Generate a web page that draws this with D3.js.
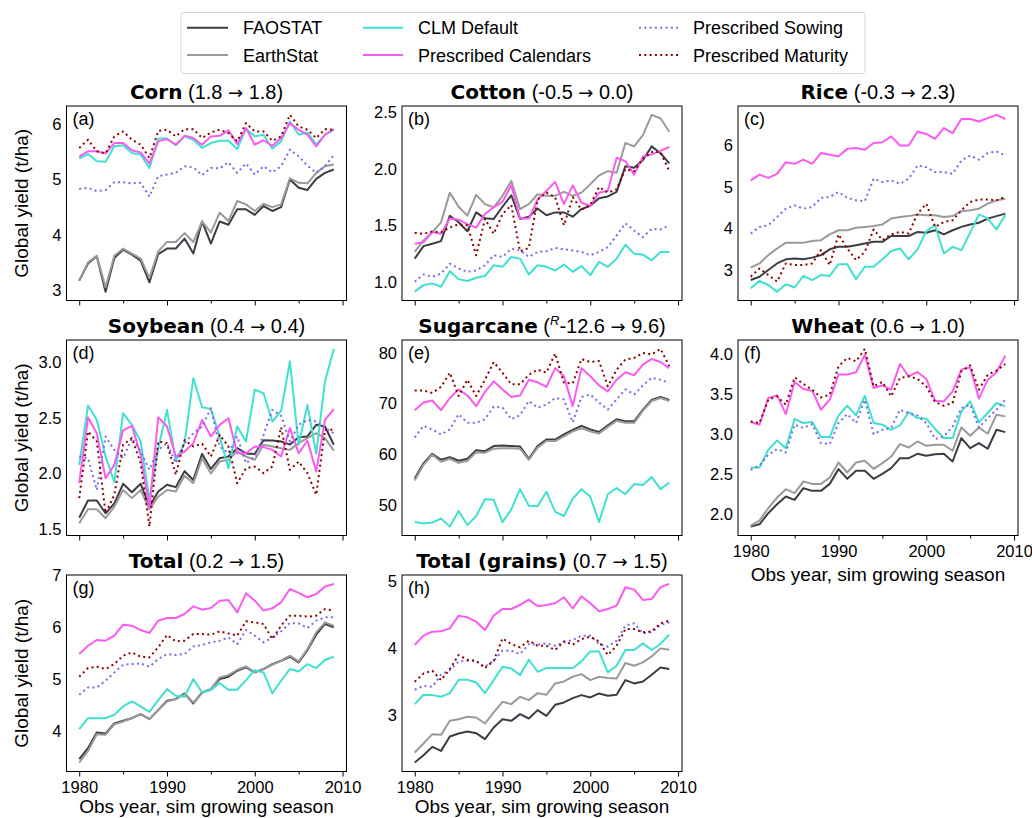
<!DOCTYPE html>
<html><head><meta charset="utf-8">
<script src="https://cdn.jsdelivr.net/npm/d3@7"></script>
<style>
body{margin:0;background:#fff}
svg{display:block}
text{font-family:"Liberation Sans",Arial,sans-serif;fill:#000}
</style>
</head><body>
<svg id="c" width="1032" height="818"></svg>
<script>
// ---------------- DATA ----------------
const years = [1980,1981,1982,1983,1984,1985,1986,1987,1988,1989,1990,1991,1992,1993,1994,1995,1996,1997,1998,1999,2000,2001,2002,2003,2004,2005,2006,2007,2008,2009];
const seriesNames = ["FAOSTAT","EarthStat","CLM Default","Prescribed Calendars","Prescribed Sowing","Prescribed Maturity"];
const xTickLabels = [1980,1990,2000,2010];
const xMinorTicks = [1985,1995,2005];

// order of every crop list: FAOSTAT, EarthStat, CLM Default, Prescribed Calendars, Prescribed Sowing, Prescribed Maturity
const corn = [
 [3.17,3.48,3.61,2.97,3.58,3.73,3.64,3.53,3.14,3.65,3.75,3.75,3.93,3.66,4.24,3.84,4.24,4.18,4.46,4.46,4.36,4.52,4.43,4.50,5.00,4.85,4.81,5.01,5.12,5.18],
 [3.17,3.50,3.62,3.05,3.62,3.75,3.66,3.57,3.22,3.70,3.87,3.87,4.03,3.87,4.24,4.04,4.40,4.25,4.61,4.55,4.43,4.56,4.50,4.55,5.02,4.94,4.93,5.12,5.24,5.27],
 [5.38,5.46,5.33,5.32,5.60,5.62,5.48,5.45,5.21,5.74,5.74,5.62,5.78,5.72,5.57,5.66,5.70,5.70,5.55,5.92,5.78,5.81,5.56,5.69,6.05,5.81,5.85,5.63,5.81,5.90],
 [5.42,5.51,5.51,5.47,5.66,5.66,5.53,5.49,5.29,5.69,5.73,5.63,5.79,5.75,5.63,5.78,5.79,5.89,5.64,5.93,5.63,5.71,5.61,5.75,6.02,5.90,5.81,5.60,5.81,5.91],
 [4.83,4.85,4.79,4.81,4.95,4.95,4.93,4.94,4.69,5.06,5.09,5.12,5.24,5.22,5.08,5.21,5.20,5.31,5.12,5.29,5.09,5.24,5.13,5.24,5.54,5.42,5.25,5.12,5.24,5.44],
 [5.57,5.72,5.51,5.47,5.78,5.87,5.72,5.63,5.39,5.88,5.90,5.78,5.91,5.91,5.75,5.85,5.90,5.84,5.69,6.02,5.87,5.87,5.70,5.78,6.17,5.96,5.90,5.75,5.91,5.90]
];
const cotton = [
 [1.205,1.316,1.337,1.36,1.585,1.527,1.448,1.615,1.562,1.557,1.665,1.767,1.557,1.577,1.65,1.59,1.615,1.615,1.577,1.644,1.674,1.741,1.756,1.797,2.025,2.01,2.08,2.2,2.14,2.05],
 [1.264,1.366,1.44,1.527,1.79,1.665,1.586,1.77,1.688,1.66,1.762,1.894,1.644,1.688,1.776,1.762,1.762,1.797,1.762,1.79,1.864,1.943,1.981,1.967,2.23,2.2,2.30,2.48,2.45,2.33],
 [0.912,0.97,0.985,0.956,1.094,1.023,1.006,1.035,1.05,1.146,1.132,1.22,1.205,1.064,1.146,1.132,1.10,1.152,1.088,1.14,1.059,1.176,1.132,1.205,1.328,1.249,1.24,1.19,1.264,1.264],
 [1.337,1.35,1.44,1.425,1.56,1.55,1.51,1.48,1.60,1.66,1.71,1.855,1.56,1.56,1.73,1.806,1.885,1.688,1.855,1.70,1.674,1.79,1.806,2.1,2.07,1.95,2.11,2.13,2.16,2.195],
 [1.0,1.064,1.044,1.073,1.16,1.117,1.088,1.10,1.146,1.235,1.22,1.293,1.278,1.22,1.264,1.27,1.30,1.287,1.278,1.264,1.235,1.264,1.307,1.41,1.518,1.454,1.395,1.469,1.463,1.50],
 [1.433,1.425,1.445,1.44,1.48,1.51,1.50,1.235,1.557,1.425,1.60,1.68,1.27,1.30,1.73,1.79,1.75,1.50,1.75,1.64,1.68,1.84,1.79,1.82,2.0,1.98,2.09,2.15,2.15,1.98]
];
const rice = [
 [2.76,2.84,3.00,3.16,3.26,3.28,3.26,3.30,3.36,3.50,3.56,3.56,3.60,3.64,3.68,3.68,3.82,3.82,3.82,3.92,3.90,3.96,3.86,3.96,4.04,4.10,4.14,4.24,4.30,4.36],
 [3.06,3.16,3.36,3.52,3.66,3.66,3.66,3.70,3.72,3.86,3.96,3.96,4.02,4.04,4.06,4.10,4.24,4.28,4.30,4.34,4.32,4.32,4.28,4.30,4.42,4.44,4.48,4.60,4.68,4.72],
 [2.56,2.74,2.64,2.48,2.66,2.58,2.86,2.76,2.88,2.86,3.14,3.14,2.78,3.08,3.08,3.26,3.46,3.52,3.26,3.50,3.94,4.08,3.40,3.56,3.48,3.90,4.34,4.24,3.98,4.32],
 [5.16,5.30,5.22,5.32,5.60,5.56,5.66,5.56,5.82,5.78,5.74,5.92,5.94,5.90,6.06,6.08,6.22,6.00,6.00,6.34,6.28,6.16,6.42,6.30,6.64,6.64,6.58,6.66,6.74,6.64],
 [3.88,4.04,4.08,4.28,4.48,4.56,4.48,4.52,4.74,4.76,4.88,4.74,4.68,4.66,5.20,5.12,5.16,5.08,5.20,5.52,5.48,5.36,5.36,5.32,5.64,5.76,5.66,5.82,5.86,5.76],
 [2.84,3.04,2.88,2.72,3.16,3.12,3.12,3.16,3.48,3.12,3.86,3.52,3.24,3.44,3.98,3.72,3.86,3.92,3.88,4.36,4.60,4.04,4.16,4.20,4.44,4.64,4.70,4.70,4.68,4.76]
];
const soybean = [
 [1.60,1.756,1.756,1.64,1.73,1.906,1.83,1.906,1.70,1.837,1.897,1.876,2.02,1.94,2.176,2.04,2.137,2.152,2.227,2.18,2.176,2.30,2.297,2.288,2.26,2.327,2.333,2.438,2.423,2.258],
 [1.55,1.677,1.677,1.596,1.70,1.85,1.777,1.85,1.677,1.79,1.85,1.837,1.978,1.912,2.137,2.0,2.107,2.122,2.197,2.152,2.122,2.258,2.243,2.227,2.212,2.273,2.318,2.363,2.318,2.206],
 [2.077,2.612,2.483,2.152,1.92,2.543,2.438,2.288,1.762,2.227,2.573,2.116,2.273,2.859,2.597,2.582,2.333,2.047,2.423,2.288,2.754,2.723,2.468,2.564,3.009,2.258,2.618,2.176,2.829,3.123],
 [1.912,2.504,2.363,1.957,2.077,2.387,2.429,2.167,1.687,2.507,2.423,2.152,2.197,2.273,2.483,2.333,2.438,2.498,2.182,2.182,2.243,2.237,2.212,2.152,2.408,2.182,2.297,2.017,2.483,2.579],
 [2.152,2.137,1.85,2.333,2.212,2.137,2.318,2.197,2.032,2.212,2.273,2.092,2.273,2.363,2.423,2.588,2.243,2.182,2.333,2.092,2.152,2.348,2.573,2.519,2.288,2.438,2.483,2.468,2.408,2.363],
 [1.777,2.378,2.288,1.64,1.807,2.258,2.318,2.092,1.52,2.288,2.273,1.987,2.30,2.243,2.267,2.152,2.348,2.243,1.912,2.047,2.062,2.002,2.062,2.417,2.032,2.107,2.002,1.807,2.393,2.393]
];
const sugarcane = [
 [55.2,58.2,60.1,58.9,59.4,58.7,59.1,60.8,60.6,61.6,61.7,61.6,61.5,59.1,61.6,62.9,62.9,63.9,64.8,65.6,64.9,64.4,65.7,66.9,66.5,66.5,68.8,70.7,71.3,70.7],
 [54.8,57.9,59.9,58.5,59.1,58.3,58.7,60.4,60.3,61.1,61.2,61.2,61.1,58.9,61.3,62.6,62.6,63.5,64.5,65.1,64.5,64.1,65.4,66.6,66.2,66.2,68.6,70.5,71.1,70.5],
 [46.6,46.3,46.5,47.3,45.7,48.8,46.0,47.8,51.1,51.0,46.6,49.1,53.1,49.8,49.7,52.6,48.6,47.8,51.2,53.1,51.6,46.6,52.1,53.3,52.1,54.1,53.9,55.5,53.1,54.4],
 [68.7,70.2,70.6,68.7,71.1,72.8,71.6,69.5,72.3,74.4,72.8,71.3,71.6,74.7,74.2,73.3,77.0,75.4,69.5,77.0,75.4,73.6,72.4,74.7,76.2,75.6,77.7,78.8,78.2,77.0],
 [63.3,65.6,64.9,63.9,64.9,67.9,66.2,66.2,66.9,69.4,69.2,66.9,67.7,70.5,69.2,69.8,71.1,70.8,66.3,71.3,71.8,70.2,68.8,70.8,72.8,71.8,73.6,75.1,74.7,74.1],
 [72.6,72.6,72.1,73.3,76.1,71.5,74.7,71.5,74.7,78.2,76.1,73.8,73.8,75.7,76.7,76.1,79.9,74.1,74.0,78.8,78.2,78.4,73.4,76.7,78.7,79.0,80.0,79.7,80.8,77.4]
];
const wheat = [
 [1.846,1.875,2.013,2.125,2.221,2.179,2.325,2.292,2.292,2.379,2.563,2.442,2.542,2.542,2.442,2.504,2.575,2.70,2.70,2.754,2.729,2.75,2.754,2.658,2.95,2.825,2.888,2.817,3.054,3.025],
 [1.858,1.921,2.075,2.208,2.313,2.263,2.408,2.379,2.379,2.458,2.646,2.521,2.646,2.667,2.567,2.638,2.721,2.875,2.833,2.908,2.854,2.867,2.867,2.792,3.083,2.979,3.083,3.004,3.242,3.221],
 [2.583,2.583,2.804,2.921,2.825,3.188,3.138,3.15,2.963,2.963,3.233,3.354,3.233,3.479,3.138,3.117,3.054,3.108,3.275,3.20,3.192,3.067,2.95,2.95,3.283,3.408,3.146,3.263,3.388,3.346],
 [3.15,3.117,3.45,3.483,3.25,3.65,3.563,3.542,3.304,3.43,3.742,3.742,3.771,3.992,3.575,3.608,3.554,3.875,3.721,3.775,3.688,3.417,3.408,3.533,3.804,3.833,3.442,3.679,3.771,3.979],
 [2.554,2.608,2.742,2.813,2.771,3.117,3.075,3.125,2.888,2.875,3.138,3.25,3.138,3.429,3.0,3.054,3.075,3.304,3.263,3.233,3.138,2.938,2.971,3.096,3.325,3.367,3.083,3.20,3.304,3.429],
 [3.158,3.138,3.429,3.471,3.367,3.708,3.625,3.554,3.458,3.492,3.846,3.95,3.908,4.063,3.596,3.65,3.471,3.70,3.721,3.688,3.596,3.40,3.354,3.388,3.783,3.858,3.554,3.742,3.792,3.875]
];
const total = [
 [3.452,3.665,3.968,3.948,4.142,4.194,4.245,4.323,4.226,4.4,4.581,4.613,4.723,4.529,4.742,4.806,5.0,5.045,5.161,5.226,5.129,5.194,5.29,5.355,5.432,5.323,5.561,5.858,6.065,6.0],
 [3.387,3.613,3.935,3.923,4.129,4.181,4.245,4.323,4.226,4.4,4.568,4.613,4.71,4.548,4.729,4.806,5.032,5.077,5.181,5.245,5.129,5.194,5.277,5.355,5.452,5.342,5.581,5.903,6.097,6.032],
 [4.032,4.245,4.245,4.245,4.31,4.471,4.568,4.471,4.368,4.594,4.806,4.677,4.658,5.0,4.742,4.787,4.923,4.794,4.794,4.981,5.174,5.129,4.723,4.968,5.194,5.148,5.29,5.213,5.368,5.432],
 [5.484,5.645,5.755,5.742,5.839,6.052,6.032,5.948,5.89,6.129,6.181,6.181,6.258,6.406,6.342,6.374,6.516,6.529,6.29,6.658,6.516,6.323,6.368,6.484,6.742,6.665,6.581,6.645,6.787,6.839],
 [4.697,4.839,4.839,4.968,5.129,5.277,5.29,5.303,5.239,5.387,5.484,5.465,5.484,5.632,5.658,5.71,5.742,5.806,5.677,5.948,5.839,5.71,5.806,5.923,6.084,6.077,5.987,6.129,6.194,6.194],
 [5.045,5.213,5.239,5.194,5.29,5.452,5.516,5.432,5.419,5.613,5.852,5.729,5.742,5.871,5.871,5.858,5.923,5.884,5.839,6.116,6.097,6.065,5.774,6.032,6.226,6.226,6.206,6.226,6.355,6.323]
];
const grains = [
 [2.29,2.40,2.525,2.465,2.68,2.725,2.755,2.73,2.64,2.815,2.94,2.915,3.015,2.95,3.075,2.99,3.155,3.19,3.255,3.30,3.265,3.325,3.29,3.305,3.525,3.475,3.505,3.605,3.715,3.69],
 [2.44,2.575,2.715,2.705,2.915,2.94,2.975,2.965,2.875,3.04,3.20,3.165,3.275,3.225,3.33,3.305,3.475,3.505,3.575,3.615,3.525,3.575,3.555,3.55,3.78,3.74,3.79,3.88,4.0,3.98],
 [3.165,3.305,3.30,3.275,3.33,3.53,3.53,3.49,3.33,3.525,3.725,3.70,3.60,3.83,3.65,3.705,3.705,3.705,3.705,3.805,3.955,3.955,3.64,3.74,3.975,3.975,4.075,3.975,4.065,4.205],
 [4.05,4.19,4.25,4.255,4.30,4.49,4.465,4.40,4.275,4.49,4.59,4.59,4.65,4.73,4.63,4.65,4.675,4.765,4.60,4.78,4.675,4.555,4.59,4.64,4.915,4.88,4.725,4.74,4.915,4.965],
 [3.38,3.44,3.425,3.605,3.675,3.805,3.815,3.805,3.725,3.815,3.965,3.965,3.915,4.065,4.055,4.075,4.04,4.09,4.125,4.19,4.19,4.065,4.025,4.115,4.34,4.375,4.225,4.24,4.35,4.39],
 [3.50,3.625,3.665,3.525,3.69,3.90,3.83,3.815,3.705,3.815,4.15,4.065,4.015,4.115,4.04,4.04,3.975,4.105,4.055,4.14,4.175,4.105,3.90,4.04,4.29,4.29,4.24,4.255,4.375,4.415]
];

const panelLetters = ["a","b","c","d","e","f","g","h"];
const panelCrops = ["Corn","Cotton","Rice","Soybean","Sugarcane","Wheat","Total","Total (grains)"];
// [superscript, from, to]
const panelChanges = [["","1.8","1.8"],["","-0.5","0.0"],["","-0.3","2.3"],["","0.4","0.4"],["R","-12.6","9.6"],["","0.6","1.0"],["","0.2","1.5"],["","0.7","1.5"]];
const panelData = [corn,cotton,rice,soybean,sugarcane,wheat,total,grains];
const panelYTicks = [[3,4,5,6],[1.0,1.5,2.0,2.5],[3,4,5,6],[1.5,2.0,2.5,3.0],[50,60,70,80],[2.0,2.5,3.0,3.5,4.0],[4,5,6,7],[3,4,5]];
const panelYFormat = ["d",".1f","d",".1f","d",".1f","d","d"];

// ---------------- STYLE / LAYOUT ----------------
const colors = ["#3c3c46","#9a9a9a","#40e0d0","#fa5af0","#7b68ee","#8b0000"];
const dashes = [null,null,null,null,"2,3.3","2,3.3"];
const colLeft = [66.5, 402, 738];
const rowTop = [106, 340, 575];
const rowBottom = [300.5, 535.5, 771.5];
const xLabelOffset = [45, 45, 41];
const W = 280;
const FONT = '"Liberation Sans", Arial, sans-serif';
const DV = '"DejaVu Sans", sans-serif';

const svg = d3.select("#c");
svg.append("rect").attr("width",1032).attr("height",818).attr("fill","#fff");

panelData.forEach((data, i) => {
  const col = i % 3, row = Math.floor(i / 3);
  const x0 = colLeft[col], y0 = rowTop[row], h = rowBottom[row] - y0;
  const showX = (i >= 5);
  const g = svg.append("g").attr("transform", `translate(${x0},${y0})`);

  const x = d3.scaleLinear().domain([1978.55, 2010.45]).range([0, W]);
  const all = data.flat();
  const mn = d3.min(all), mx = d3.max(all), pad = (mx - mn) * 0.05;
  const y = d3.scaleLinear().domain([mn - pad, mx + pad]).range([h, 0]);

  const line = d3.line().x((d, j) => x(years[j])).y(d => y(d));
  data.forEach((s, k) => {
    const p = g.append("path").datum(s).attr("d", line)
      .attr("fill", "none").attr("stroke", colors[k]).attr("stroke-width", 2)
      .attr("stroke-linejoin", "round");
    if (dashes[k]) p.attr("stroke-dasharray", dashes[k]);
  });

  g.append("rect").attr("x", 0).attr("y", 0).attr("width", W).attr("height", h)
    .attr("fill", "none").attr("stroke", "#000").attr("stroke-width", 1);

  const xa = d3.axisBottom(x).tickValues(xTickLabels).tickSize(5).tickPadding(5)
    .tickFormat(showX ? d3.format("d") : () => "");
  g.append("g").attr("transform", `translate(0,${h})`).call(xa)
    .call(a => a.select(".domain").remove())
    .attr("font-size", 16.5).attr("font-family", FONT);
  const xm = d3.axisBottom(x).tickValues(xMinorTicks).tickSize(3).tickFormat(() => "");
  g.append("g").attr("transform", `translate(0,${h})`).call(xm)
    .call(a => a.select(".domain").remove());

  const ya = d3.axisLeft(y).tickValues(panelYTicks[i]).tickSize(0).tickPadding(5)
    .tickFormat(d3.format(panelYFormat[i]));
  g.append("g").call(ya).call(a => a.select(".domain").remove())
    .attr("font-size", 16.5).attr("font-family", FONT);

  // panel letter
  g.append("text").attr("x", 6).attr("y", 19).attr("font-size", 18).text(`(${panelLetters[i]})`);

  // title
  const t = svg.append("text").attr("x", x0 + W / 2).attr("y", y0 - 7)
    .attr("text-anchor", "middle").attr("font-size", 20);
  t.append("tspan").attr("font-family", DV).attr("font-weight", "bold").text(panelCrops[i]);
  const [sup, from, to] = panelChanges[i];
  t.append("tspan").attr("font-family", FONT).text(" (");
  if (sup) {
    t.append("tspan").attr("font-family", FONT).attr("font-style", "italic").attr("font-size", 13).attr("dy", -8).text(sup);
    t.append("tspan").attr("font-family", FONT).attr("dy", 8).text(from + " ");
  } else {
    t.append("tspan").attr("font-family", FONT).text(from + " ");
  }
  t.append("tspan").attr("font-family", DV).attr("font-size", 18).text("→");
  t.append("tspan").attr("font-family", FONT).text(" " + to + ")");

  if (col === 0) {
    svg.append("text").attr("transform", `translate(28,${y0 + h / 2}) rotate(-90)`)
      .attr("text-anchor", "middle").attr("font-size", 19).text("Global yield (t/ha)");
  }
  if (showX) {
    svg.append("text").attr("x", x0 + W / 2).attr("y", rowBottom[row] + xLabelOffset[row])
      .attr("text-anchor", "middle").attr("font-size", 19).text("Obs year, sim growing season");
  }
});

// ---------------- LEGEND ----------------
const leg = svg.append("g");
leg.append("rect").attr("x", 181).attr("y", 12.5).attr("width", 684).attr("height", 61).attr("rx", 3)
  .attr("fill", "#fff").attr("stroke", "#d5d5d5").attr("stroke-width", 1);
const legLine = [[187, 228], [363, 403], [639, 678]];
const legTextX = [243, 418, 693];
const legRowY = [27.7, 55];
seriesNames.forEach((name, k) => {
  const c = Math.floor(k / 2), r = k % 2;
  const l = leg.append("line").attr("x1", legLine[c][0]).attr("x2", legLine[c][1])
    .attr("y1", legRowY[r]).attr("y2", legRowY[r])
    .attr("stroke", colors[k]).attr("stroke-width", 2);
  if (dashes[k]) l.attr("stroke-dasharray", dashes[k]);
  leg.append("text").attr("x", legTextX[c]).attr("y", legRowY[r] + 6.6)
    .attr("font-size", 18).text(name);
});
</script>
</body></html>
